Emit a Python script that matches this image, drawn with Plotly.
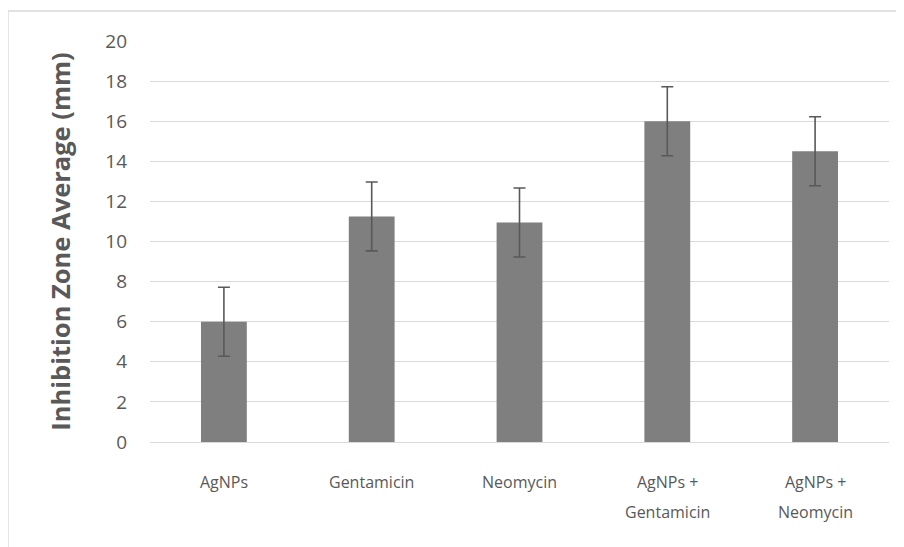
import plotly.graph_objects as go

categories = ["AgNPs", "Gentamicin", "Neomycin", "AgNPs +\nGentamicin", "AgNPs +\nNeomycin"]
values = [6.0, 11.25, 10.95, 16.0, 14.5]
errors = [1.72, 1.72, 1.72, 1.72, 1.72]
y_ticks = [0, 2, 4, 6, 8, 10, 12, 14, 16, 18, 20]
y_title = "Inhibition Zone Average (mm)"

cat_ids = list(range(len(categories)))

# page body has an 8px margin; compensate so the plot area lands where the reference has it
L, T, R, B = 142, 33, 23, 113
PW = 904 - L - R
PH = 547 - T - B

fig = go.Figure()
fig.add_trace(go.Bar(
    x=cat_ids, y=values,
    marker=dict(color="#7f7f7f", line=dict(width=0)),
    error_y=dict(type="data", array=errors, visible=True, color="#595959", thickness=1.6, width=6),
    width=0.31,
))

annotations = []
for i, lab in enumerate(categories):
    for j, line in enumerate(lab.split("\n")):
        annotations.append(dict(
            x=cat_ids[i], y=0, xref="x", yref="paper",
            text=line, showarrow=False, yanchor="middle", xanchor="center",
            yshift=-40 - 30 * j,
            font=dict(family="Open Sans", size=16, color="#595959"),
        ))

fig.update_layout(
    width=904, height=547,
    margin=dict(l=L, r=R, t=T, b=B),
    paper_bgcolor="white", plot_bgcolor="white",
    showlegend=False,
    annotations=annotations,
    xaxis=dict(
        range=[-0.5, len(categories) - 0.5],
        showticklabels=False, showgrid=False, zeroline=False,
        showline=False, ticks="",
    ),
    yaxis=dict(
        range=[0, 20], tickvals=y_ticks,
        showgrid=True, gridcolor="#d9d9d9", gridwidth=1.3,
        zeroline=True, zerolinecolor="#d9d9d9", zerolinewidth=1.3,
        showline=False, ticks="",
        tickfont=dict(family="Open Sans", size=19, color="#595959"),
        ticklabelstandoff=22,
        title=dict(text=y_title, font=dict(family="Open Sans", size=25.5, color="#595959", weight="bold"), standoff=27),
    ),
    shapes=[dict(
        type="rect", xref="paper", yref="paper",
        x0=(0 - L) / PW, x1=1.2, y0=-0.5, y1=(PH + T - 3) / PH,
        line=dict(color="#d9d9d9", width=1.3), fillcolor="rgba(0,0,0,0)", layer="below",
    )],
)

fig.write_html("out.html")
